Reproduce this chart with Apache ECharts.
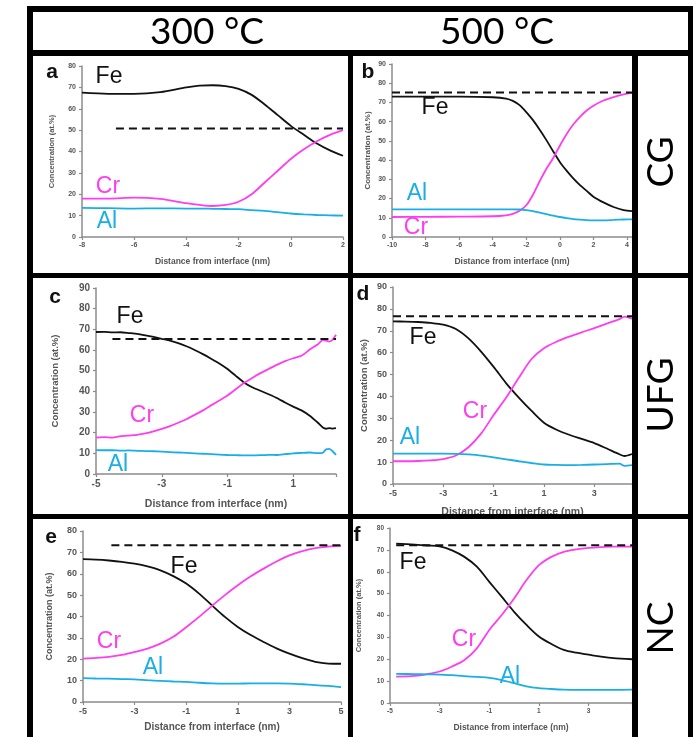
<!DOCTYPE html>
<html>
<head>
<meta charset="utf-8">
<script src="https://cdn.jsdelivr.net/npm/echarts@6/dist/echarts.min.js"></script>
<style>
  html, body { margin: 0; padding: 0; background: #fff; }
  #chart { width: 697px; height: 737px; }
</style>
</head>
<body>
<div id="chart"></div>
<script>
// ---- Composition profiles across the interface (at.%) ----

// (a) 300 °C, CG
const xA  = [-8, -7, -6, -5, -4, -3.5, -3, -2.5, -2, -1.5, -1, -0.5, 0, 0.5, 1, 1.5, 2];
const feA = [67.5, 67, 67, 67.8, 70, 70.8, 71, 70.6, 69.3, 66.5, 62, 57, 52, 47.8, 43.7, 40.5, 38];
const crA = [18, 18, 18.4, 17.8, 15.8, 15, 14.5, 15, 16.5, 20, 25.5, 31, 36.5, 41, 44.8, 47.8, 50];
const alA = [13.6, 13.5, 13.3, 13.4, 13.3, 13.3, 13.2, 13.1, 13, 12.6, 12.2, 11.6, 11, 10.6, 10.3, 10.1, 10];
const refA = [[-6.7, 50.8], [2, 50.8]];

// (b) 500 °C, CG
const xB  = [-10, -8, -6, -4, -3.2, -2.8, -2.4, -2, -1.6, -1.2, -0.8, -0.4, 0, 0.4, 0.8, 1.2, 1.6, 2, 2.6, 3.2, 3.8, 4.3];
const feB = [73, 73, 73, 72.7, 72, 70.8, 68.6, 65, 60.8, 55.8, 50.4, 44.6, 39, 34.5, 30.5, 27, 24, 21, 18, 15.6, 14, 13.5];
const crB = [10.4, 10.5, 10.6, 10.8, 11.3, 12, 13.6, 16.5, 22, 29, 35.5, 41, 47.5, 53.5, 58.5, 62.5, 65.8, 68.3, 71, 72.8, 74.2, 75];
const alB = [14.4, 14.4, 14.4, 14.4, 14.4, 14.4, 14.3, 14, 13.5, 12.7, 11.9, 11.1, 10.4, 9.8, 9.3, 9, 8.8, 8.7, 8.7, 8.9, 9.1, 9.2];
const refB = [[-10, 75.2], [4.3, 75.2]];

// (c) 300 °C, UFG
const xC  = [-5, -4.75, -4.5, -4.25, -4, -3.75, -3.5, -3.25, -3, -2.75, -2.5, -2.25, -2, -1.75, -1.5, -1.25, -1, -0.75, -0.5, -0.25, 0, 0.25, 0.5, 0.75, 1, 1.25, 1.5, 1.75, 1.9, 2, 2.1, 2.2, 2.3];
const feC = [68.7, 68.8, 68.5, 68.6, 68.2, 67.8, 67.1, 66.3, 65.4, 64.5, 63.3, 61.8, 60, 58, 55.8, 53.5, 50.8, 47.5, 44.3, 42, 40.3, 38.6, 36.8, 34.6, 32.6, 30.8, 28.2, 24.8, 22.5, 21.9, 22.2, 22, 22.2];
const crC = [17.6, 17.8, 17.6, 18.3, 18.6, 18.9, 19.6, 20.6, 21.8, 23.2, 24.8, 26.5, 28.6, 30.8, 33.2, 35.6, 38, 41, 44, 46.5, 48.8, 50.8, 52.8, 54.6, 56, 57.2, 60.2, 62.8, 64.9, 64.5, 64.1, 65, 67.4];
const alC = [11.6, 11.5, 11.5, 11.3, 11.4, 11.2, 11.1, 11, 10.8, 10.6, 10.4, 10.2, 10, 9.8, 9.6, 9.4, 9.2, 9.1, 9, 9, 9.1, 9.3, 9.2, 9.6, 10, 10.2, 10.4, 10.1, 10.3, 12, 12.2, 11, 9.2];
const refC = [[-4.5, 65.3], [2.3, 65.3]];

// (d) 500 °C, UFG
const xD  = [-5, -4.5, -4, -3.5, -3, -2.5, -2, -1.5, -1, -0.5, 0, 0.5, 1, 1.5, 2, 2.5, 3, 3.5, 4, 4.2, 4.5];
const feD = [74.3, 74.2, 74, 73.6, 72.8, 70.8, 66.5, 60.5, 53.5, 46, 39.5, 33.5, 28, 24.8, 22.5, 20.6, 18.7, 16.2, 13.6, 12.8, 13.7];
const crD = [10.4, 10.4, 10.5, 10.8, 11.4, 13, 16.8, 23, 31.5, 39.5, 48.5, 57, 62, 65, 67.3, 69.3, 71.2, 73.3, 75.3, 76.5, 75.5];
const alD = [13.9, 13.9, 13.9, 13.9, 13.9, 13.8, 13.5, 13, 12.2, 11.3, 10.4, 9.6, 8.9, 8.7, 8.6, 8.7, 8.9, 9.1, 9.3, 8.3, 8.6];
const refD = [[-5, 76.6], [4.5, 76.6]];

// (e) 300 °C, NC
const xE  = [-5, -4.5, -4, -3.5, -3, -2.5, -2, -1.5, -1, -0.5, 0, 0.5, 1, 1.5, 2, 2.5, 3, 3.5, 4, 4.5, 5];
const feE = [66.8, 66.6, 66.2, 65.6, 64.7, 63.4, 61.6, 58.9, 55.4, 50.7, 45.2, 39.8, 35.1, 31.3, 28.1, 25.1, 22.6, 20.5, 18.8, 18, 17.9];
const crE = [20.3, 20.6, 21.1, 22, 23.4, 25, 27.3, 30.5, 35, 39.8, 45, 50, 54.6, 58.8, 62.4, 65.7, 68.6, 70.6, 72, 72.7, 73];
const alE = [11.2, 11, 10.9, 10.7, 10.6, 10.2, 9.9, 9.6, 9.4, 9, 8.7, 8.6, 8.6, 8.7, 8.7, 8.7, 8.6, 8.3, 7.9, 7.5, 7];
const refE = [[-3.9, 73.3], [5, 73.3]];

// (f) 500 °C, NC
const xF  = [-4.75, -4, -3.5, -3, -2.5, -2, -1.5, -1, -0.5, 0, 0.5, 1, 1.5, 2, 2.5, 3, 3.5, 4, 4.75];
const feF = [72.9, 72.4, 72, 71.6, 69.8, 66.8, 62.3, 55.4, 48.6, 41.7, 35.7, 30.4, 27, 24.3, 23, 22.1, 21.2, 20.5, 20];
const crF = [12.1, 12.4, 13.2, 14.4, 16.7, 19.7, 25, 33.4, 40.2, 47.8, 56.2, 63, 66.8, 69.1, 70.2, 70.9, 71.3, 71.5, 71.5];
const alF = [13.3, 13.2, 13.1, 13, 12.7, 12.3, 11.9, 11.5, 10.5, 9.1, 7.6, 6.8, 6.4, 6.1, 6, 6, 6, 6, 6.1];
const refF = [[-4.75, 72.1], [4.75, 72.1]];

// Axis ranges
const xRanges = [[-8, 2], [-10, 4.3], [-5, 2.3], [-5, 4.5], [-5, 5], [-5, 4.75]];
const yMaxes  = [80, 90, 90, 90, 80, 80];

// Table text
const columnTitles = ['300 °C', '500 °C'];
const rowTitles = ['CG', 'UFG', 'NC'];
const panelLetters = ['a', 'b', 'c', 'd', 'e', 'f'];
const yTitle = 'Concentration (at.%)';
const xTitle = 'Distance from interface (nm)';

// ---- Styling / layout ----
const FE_COLOR = '#111111';
const CR_COLOR = '#ff3df0';
const AL_COLOR = '#1aaee6';
const AXIS_COLOR = '#8c8c8c';
const LABEL_COLOR = '#555555';
const SANS = '"Liberation Sans", Arial, sans-serif';

const profiles = [
  { x: xA, fe: feA, cr: crA, al: alA, ref: refA, smooth: 0.3 },
  { x: xB, fe: feB, cr: crB, al: alB, ref: refB, smooth: 0.3 },
  { x: xC, fe: feC, cr: crC, al: alC, ref: refC, smooth: 0.15 },
  { x: xD, fe: feD, cr: crD, al: alD, ref: refD, smooth: 0.3 },
  { x: xE, fe: feE, cr: crE, al: alE, ref: refE, smooth: 0.3 },
  { x: xF, fe: feF, cr: crF, al: alF, ref: refF, smooth: 0.3 }
];

// plot rectangles and text sizes per panel
const layouts = [
  { left: 82,  top: 66,  right: 343, bottom: 237, tick: 7,   yName: 7.5, xName: 8.5, yGap: 26, xGap: 20 },
  { left: 392, top: 64,  right: 632, bottom: 237, tick: 7,   yName: 8,   xName: 8.5, yGap: 20, xGap: 20 },
  { left: 96,  top: 288, right: 336, bottom: 474, tick: 10,  yName: 9.5, xName: 10.5, yGap: 36, xGap: 25 },
  { left: 393, top: 287, right: 632, bottom: 484, tick: 9,   yName: 9.5, xName: 10.5, yGap: 24, xGap: 23 },
  { left: 83,  top: 531, right: 341, bottom: 702, tick: 9,   yName: 9,   xName: 10,  yGap: 29, xGap: 20 },
  { left: 390, top: 528, right: 632, bottom: 703, tick: 6.5, yName: 7.5, xName: 8.5, yGap: 27, xGap: 20 }
];

// positions of the in-plot text: panel letter, Fe, Cr, Al
const annotations = [
  { letter: [52, 72],  fe: [109, 77],  cr: [108, 187], al: [107, 222] },
  { letter: [368, 72], fe: [435, 108], cr: [416, 228], al: [417, 194] },
  { letter: [55, 297], fe: [130, 317], cr: [142, 416], al: [118, 465] },
  { letter: [363, 294], fe: [423, 338], cr: [475, 412], al: [410, 438] },
  { letter: [51, 537], fe: [184, 567], cr: [109, 642], al: [153, 668] },
  { letter: [357, 535], fe: [413, 563], cr: [464, 640], al: [510, 677] }
];

function zip(xs, ys) { return xs.map((x, i) => [x, ys[i]]); }
function tickFormatter(min, interval) {
  return v => {
    const k = (v - min) / interval;
    return Math.abs(k - Math.round(k)) < 1e-6 ? String(Math.round(v * 100) / 100) : '';
  };
}

const grid = [], xAxis = [], yAxis = [], series = [], graphic = [];

profiles.forEach((p, i) => {
  const L = layouts[i];
  grid.push({ left: L.left, top: L.top, width: L.right - L.left, height: L.bottom - L.top, containLabel: false });
  const [xmin, xmax] = xRanges[i];
  xAxis.push({
    type: 'value', gridIndex: i, min: xmin, max: xmax, interval: 2,
    name: xTitle, nameLocation: 'middle', nameGap: L.xGap,
    nameTextStyle: { color: LABEL_COLOR, fontWeight: 'bold', fontSize: L.xName, fontFamily: SANS },
    axisLine: { onZero: false, lineStyle: { color: AXIS_COLOR, width: 1.5 } },
    axisTick: { show: true, length: 3, lineStyle: { color: AXIS_COLOR, width: 1.2 } },
    axisLabel: { color: LABEL_COLOR, fontWeight: 'bold', fontSize: L.tick, fontFamily: SANS, margin: 5,
                 formatter: tickFormatter(xmin, 2), showMinLabel: true, showMaxLabel: true },
    splitLine: { show: false }
  });
  yAxis.push({
    type: 'value', gridIndex: i, min: 0, max: yMaxes[i], interval: 10,
    name: yTitle, nameLocation: 'middle', nameGap: L.yGap, nameRotate: 90,
    nameTextStyle: { color: LABEL_COLOR, fontWeight: 'bold', fontSize: L.yName, fontFamily: SANS },
    axisLine: { show: true, onZero: false, lineStyle: { color: AXIS_COLOR, width: 1.5 } },
    axisTick: { show: true, length: 3, lineStyle: { color: AXIS_COLOR, width: 1.2 } },
    axisLabel: { color: LABEL_COLOR, fontWeight: 'bold', fontSize: L.tick, fontFamily: SANS, margin: 6 },
    splitLine: { show: false }
  });

  const lineBase = { type: 'line', xAxisIndex: i, yAxisIndex: i, showSymbol: false, symbol: 'none',
                     smooth: p.smooth, silent: true, animation: false };
  series.push(Object.assign({}, lineBase, { name: 'Fe', data: zip(p.x, p.fe), lineStyle: { color: FE_COLOR, width: 1.8 } }));
  series.push(Object.assign({}, lineBase, { name: 'Cr', data: zip(p.x, p.cr), lineStyle: { color: CR_COLOR, width: 1.8 } }));
  series.push(Object.assign({}, lineBase, { name: 'Al', data: zip(p.x, p.al), lineStyle: { color: AL_COLOR, width: 1.8 } }));
  series.push(Object.assign({}, lineBase, { name: 'ref', smooth: false, data: p.ref,
    lineStyle: { color: '#111', width: 2, type: [8, 5] } }));

  const A = annotations[i];
  const txt = (pos, text, fill, font) => ({
    type: 'text', x: pos[0], y: pos[1], z: 50, silent: true,
    style: { text, fill, font, align: 'center', verticalAlign: 'middle' }
  });
  graphic.push(txt(A.letter, panelLetters[i], '#111', 'bold 21px ' + SANS));
  graphic.push(txt(A.fe, 'Fe', FE_COLOR, '23px ' + SANS));
  graphic.push(txt(A.cr, 'Cr', CR_COLOR, '23px ' + SANS));
  graphic.push(txt(A.al, 'Al', AL_COLOR, '23px ' + SANS));
});

// ---- Table frame ----
const bar = (x, y, w, h) => ({ type: 'rect', z: 100, silent: true, shape: { x, y, width: w, height: h }, style: { fill: '#000' } });
graphic.push(bar(27, 6, 666, 6));     // top
graphic.push(bar(27, 50, 666, 6));    // under header
graphic.push(bar(27, 273, 666, 5));   // row 1 / 2
graphic.push(bar(27, 514, 666, 5));   // row 2 / 3
graphic.push(bar(27, 6, 6, 731));     // left
graphic.push(bar(688, 6, 5, 731));    // right
graphic.push(bar(348, 50, 5, 687));   // column divider
graphic.push(bar(632, 50, 6, 687));   // label column divider

const HEAD = 'Lato, "Open Sans", sans-serif';
graphic.push({ type: 'text', z: 110, x: 207, y: 32, silent: true,
  style: { text: columnTitles[0], fill: '#000', font: '37px ' + HEAD, align: 'center', verticalAlign: 'middle' } });
graphic.push({ type: 'text', z: 110, x: 497, y: 32, silent: true,
  style: { text: columnTitles[1], fill: '#000', font: '37px ' + HEAD, align: 'center', verticalAlign: 'middle' } });
[[661, 162], [661, 395], [661, 628]].forEach((pos, i) => {
  graphic.push({ type: 'text', z: 110, x: pos[0], y: pos[1], rotation: Math.PI / 2, silent: true,
    style: { text: rowTitles[i], fill: '#000', font: '37px ' + HEAD, align: 'center', verticalAlign: 'middle' } });
});

const chart = echarts.init(document.getElementById('chart'), null, { renderer: 'canvas' });
chart.setOption({
  backgroundColor: '#ffffff',
  animation: false,
  grid, xAxis, yAxis, series, graphic
});
</script>
</body>
</html>
